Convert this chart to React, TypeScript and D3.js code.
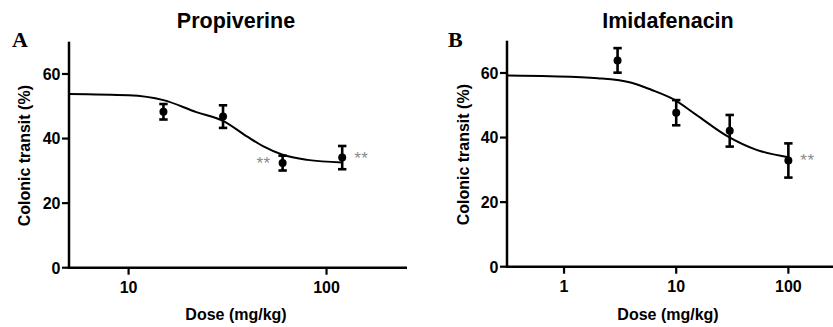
import React from "react"
import * as d3 from "d3"

// Panel A — Propiverine
const doseA = [15, 30, 60, 120]
const meanA = [48.3, 46.8, 32.4, 34.1]
const semA = [2.4, 3.5, 2.3, 3.6]
const sigA = ["", "", "**", "**"]
const fitDoseA = [5, 10, 15, 22, 30, 40, 48, 60, 80, 120]
const fitValA = [53.8, 53.4, 51.9, 48.2, 45.5, 40.5, 37.6, 35.0, 33.4, 32.6]
const xTicksA = [10, 100]

// Panel B — Imidafenacin
const doseB = [3, 10, 30, 100]
const meanB = [63.9, 47.7, 42.1, 32.9]
const semB = [3.8, 3.9, 4.9, 5.3]
const sigB = ["", "", "", "**"]
const fitDoseB = [0.31, 0.75, 2, 4, 6, 9.5, 15, 28, 52, 100]
const fitValB = [59.2, 59.0, 58.4, 57.0, 54.8, 51.8, 47.1, 40.6, 36.2, 33.9]
const xTicksB = [1, 10, 100]

const yTicks = [0, 20, 40, 60]

const SANS = "'Liberation Sans', Arial, sans-serif"
const SERIF = "'Liberation Serif', 'Times New Roman', serif"

interface PanelProps {
  letter: string
  title: string
  dose: number[]
  mean: number[]
  sem: number[]
  sig: string[]
  starSide: number[]
  fitDose: number[]
  fitVal: number[]
  xTicks: number[]
  xDomain: [number, number]
  left: number
  right: number
  top: number
  bottom: number
  letterX: number
  labelX: number
}

function Panel(p: PanelProps) {
  const x = d3.scaleLog().domain(p.xDomain).range([p.left, p.right])
  const y = d3.scaleLinear().domain([0, 70]).range([p.bottom, p.top])
  const line = d3
    .line<number>()
    .x((d) => x(d))
    .y((_, i) => y(p.fitVal[i]))
    .curve(d3.curveMonotoneX)
  const cx = (p.left + p.right) / 2

  return (
    <g>
      {/* letter + title */}
      <text x={p.letterX} y={46.5} fontFamily={SERIF} fontWeight="bold" fontSize={22}>
        {p.letter}
      </text>
      <text x={cx - 2} y={27.5} fontFamily={SANS} fontWeight="bold" fontSize={21.5} textAnchor="middle">
        {p.title}
      </text>

      {/* axes */}
      <line x1={p.left} x2={p.left} y1={p.top} y2={p.bottom + 1.2} stroke="#000" strokeWidth={2.5} />
      <line x1={p.left - 1.2} x2={p.right} y1={p.bottom} y2={p.bottom} stroke="#000" strokeWidth={2.5} />
      {yTicks.map((t) => (
        <g key={t}>
          <line x1={p.left - 7} x2={p.left} y1={y(t)} y2={y(t)} stroke="#000" strokeWidth={2.2} />
          <text
            x={p.left - 8.5}
            y={y(t) + 5.8}
            textAnchor="end"
            fontFamily={SANS}
            fontWeight="bold"
            fontSize={16}
          >
            {t}
          </text>
        </g>
      ))}
      {p.xTicks.map((t) => (
        <g key={t}>
          <line x1={x(t)} x2={x(t)} y1={p.bottom} y2={p.bottom + 7} stroke="#000" strokeWidth={2.2} />
          <text x={x(t)} y={p.bottom + 25.5} textAnchor="middle" fontFamily={SANS} fontWeight="bold" fontSize={16}>
            {t}
          </text>
        </g>
      ))}
      <text x={cx - 2} y={319.5} textAnchor="middle" fontFamily={SANS} fontWeight="bold" fontSize={16}>
        Dose (mg/kg)
      </text>
      <text
        transform={`translate(${p.labelX},${(p.top + p.bottom) / 2 + 1}) rotate(-90)`}
        textAnchor="middle"
        fontFamily={SANS}
        fontWeight="bold"
        fontSize={16}
      >
        Colonic transit (%)
      </text>

      {/* fitted curve */}
      <path d={line(p.fitDose) ?? ""} fill="none" stroke="#000" strokeWidth={2} />

      {/* points with SEM */}
      {p.dose.map((d, i) => {
        const px = x(d)
        const hi = y(p.mean[i] + p.sem[i])
        const lo = y(p.mean[i] - p.sem[i])
        return (
          <g key={d}>
            <line x1={px} x2={px} y1={hi} y2={lo} stroke="#000" strokeWidth={2.6} />
            <line x1={px - 4.2} x2={px + 4.2} y1={hi} y2={hi} stroke="#000" strokeWidth={2.6} />
            <line x1={px - 4.2} x2={px + 4.2} y1={lo} y2={lo} stroke="#000" strokeWidth={2.6} />
            <circle cx={px} cy={y(p.mean[i])} r={4} fill="#000" />
            {p.sig[i] && (
              <text
                x={px + p.starSide[i] * 12}
                y={y(p.mean[i]) + 6}
                textAnchor={p.starSide[i] < 0 ? "end" : "start"}
                fontFamily={SANS}
                fontSize={17}
                letterSpacing={0.5}
                fill="#8a8a8a"
              >
                {p.sig[i]}
              </text>
            )}
          </g>
        )
      })}
    </g>
  )
}

export default function App() {
  return (
    <div style={{ position: "absolute", left: 0, top: 0 }}>
      <svg width={833} height={327} style={{ display: "block", background: "#fff" }}>
        <Panel
          letter="A"
          title="Propiverine"
          dose={doseA}
          mean={meanA}
          sem={semA}
          sig={sigA}
          starSide={[1, 1, -1, 1]}
          fitDose={fitDoseA}
          fitVal={fitValA}
          xTicks={xTicksA}
          xDomain={[5, 255]}
          left={69}
          right={407}
          top={41.7}
          bottom={267.7}
          letterX={12}
          labelX={30}
        />
        <Panel
          letter="B"
          title="Imidafenacin"
          dose={doseB}
          mean={meanB}
          sem={semB}
          sig={sigB}
          starSide={[1, 1, 1, 1]}
          fitDose={fitDoseB}
          fitVal={fitValB}
          xTicks={xTicksB}
          xDomain={[0.31, 250]}
          left={507}
          right={833}
          top={40.7}
          bottom={266.7}
          letterX={448}
          labelX={469}
        />
      </svg>
    </div>
  )
}
